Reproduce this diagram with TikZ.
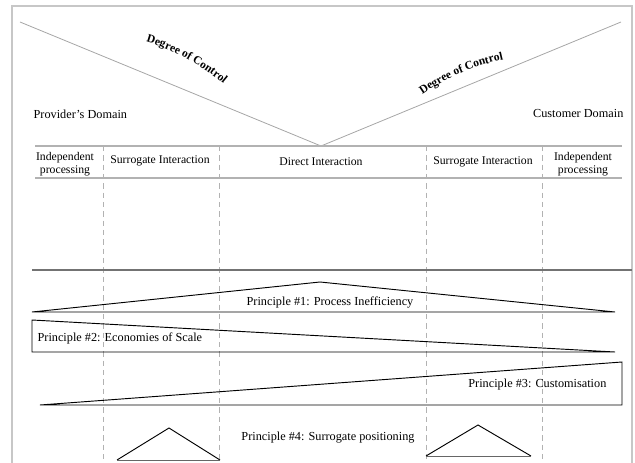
\documentclass[tikz,border=0pt]{standalone}
\usepackage{fontspec}
\setmainfont{Liberation Serif}
\usetikzlibrary{decorations.text}
\begin{document}
\begin{tikzpicture}[x=0.75pt,y=-0.75pt,
  frame/.style={draw=black!22, line width=0.8pt},
  vline/.style={draw=black!35, line width=0.6pt},
  hdr/.style={draw=black!30, line width=0.8pt},
  sep/.style={draw=black!30, dashed, dash pattern=on 4pt off 3pt, line width=0.5pt},
  thick/.style={draw=black!55, line width=1.2pt},
  prin/.style={draw=black, line width=0.7pt},
  lbl/.style={font=\fontsize{9.2}{10}\selectfont, inner sep=1pt},
  col/.style={font=\fontsize{8.8}{9.6}\selectfont, inner sep=1pt, align=center}
]
\useasboundingbox (0,0) rectangle (635,463);
% frame
\draw[frame] (12,470) -- (12,6) -- (632,6) -- (632,470);
% V
\coordinate (vl) at (20,22);
\coordinate (vb) at (321,146);
\coordinate (vr) at (621,22);
\draw[vline] (vl) -- (vb) -- (vr);
% curved labels
\path[decorate, decoration={text along path, text align=center,
  text={|\fontsize{8.7}{9.5}\selectfont\bfseries|Degree of Control}}]
  (130,38) .. controls (168,45) and (204,65) .. (236,95);
\path[decorate, decoration={text along path, text align=center,
  text={|\fontsize{8.7}{9.5}\selectfont\bfseries|Degree of Control}}]
  (412,102) .. controls (440,80) and (475,64) .. (516,57);
% domains
\node[lbl, anchor=west] (prov) at (32,114) {Provider’s Domain};
\node[lbl, anchor=east] (cust) at (625,114) {Customer Domain};
% header lines
\coordinate (h1l) at (35,146); \coordinate (h1r) at (622,146);
\coordinate (h2l) at (35,178); \coordinate (h2r) at (622,178);
\draw[hdr] (h1l) -- (h1r);
\draw[hdr] (h2l) -- (h2r);
% dashed separators
\foreach \x/\n in {103/a,219/b,426/c,542/d}{
  \coordinate (s\n t) at (\x,146);
  \coordinate (s\n b) at (\x,463);
  \draw[sep] (s\n t) -- (s\n b);
}
% column headers
\node[col] (c1) at (65,164) {Independent\\processing};
\node[col] (c2) at (160,161) {Surrogate Interaction};
\node[col] (c3) at (321,162) {Direct Interaction};
\node[col] (c4) at (483,162) {Surrogate Interaction};
\node[col] (c5) at (583,164) {Independent\\processing};
% thick line
\coordinate (tl) at (32,270); \coordinate (tr) at (632,270);
\draw[thick] (tl) -- (tr);
% principle 1
\coordinate (p1a) at (32,312); \coordinate (p1b) at (320,282); \coordinate (p1c) at (615,312);
\draw[prin] (p1a) -- (p1b) -- (p1c) -- cycle;
\node[lbl] (t1) at (330,303) {Principle \#1: Process Inefficiency};
% principle 2
\coordinate (p2a) at (32,320); \coordinate (p2b) at (32,352); \coordinate (p2c) at (615,352);
\draw[prin] (p2a) -- (p2b) -- (p2c) -- cycle;
\node[lbl, anchor=west] (t2) at (36,338) {Principle \#2: Economies of Scale};
% principle 3
\coordinate (p3a) at (40,405); \coordinate (p3b) at (622,362); \coordinate (p3c) at (622,405);
\draw[prin] (p3a) -- (p3b) -- (p3c) -- cycle;
\node[lbl, anchor=east] (t3) at (608,385) {Principle \#3: Customisation};
% principle 4
\coordinate (p4a) at (117,460); \coordinate (p4b) at (169,428); \coordinate (p4c) at (220,460);
\draw[prin] (p4a) -- (p4b) -- (p4c);
\draw[prin, draw=black!60] (p4a) -- (p4c);
\coordinate (p5a) at (426,456); \coordinate (p5b) at (478,425); \coordinate (p5c) at (531,456);
\draw[prin] (p5a) -- (p5b) -- (p5c);
\draw[prin, draw=black!60] (p5a) -- (p5c);
\node[lbl] (t4) at (328,438) {Principle \#4: Surrogate positioning};
\end{tikzpicture}
\end{document}
